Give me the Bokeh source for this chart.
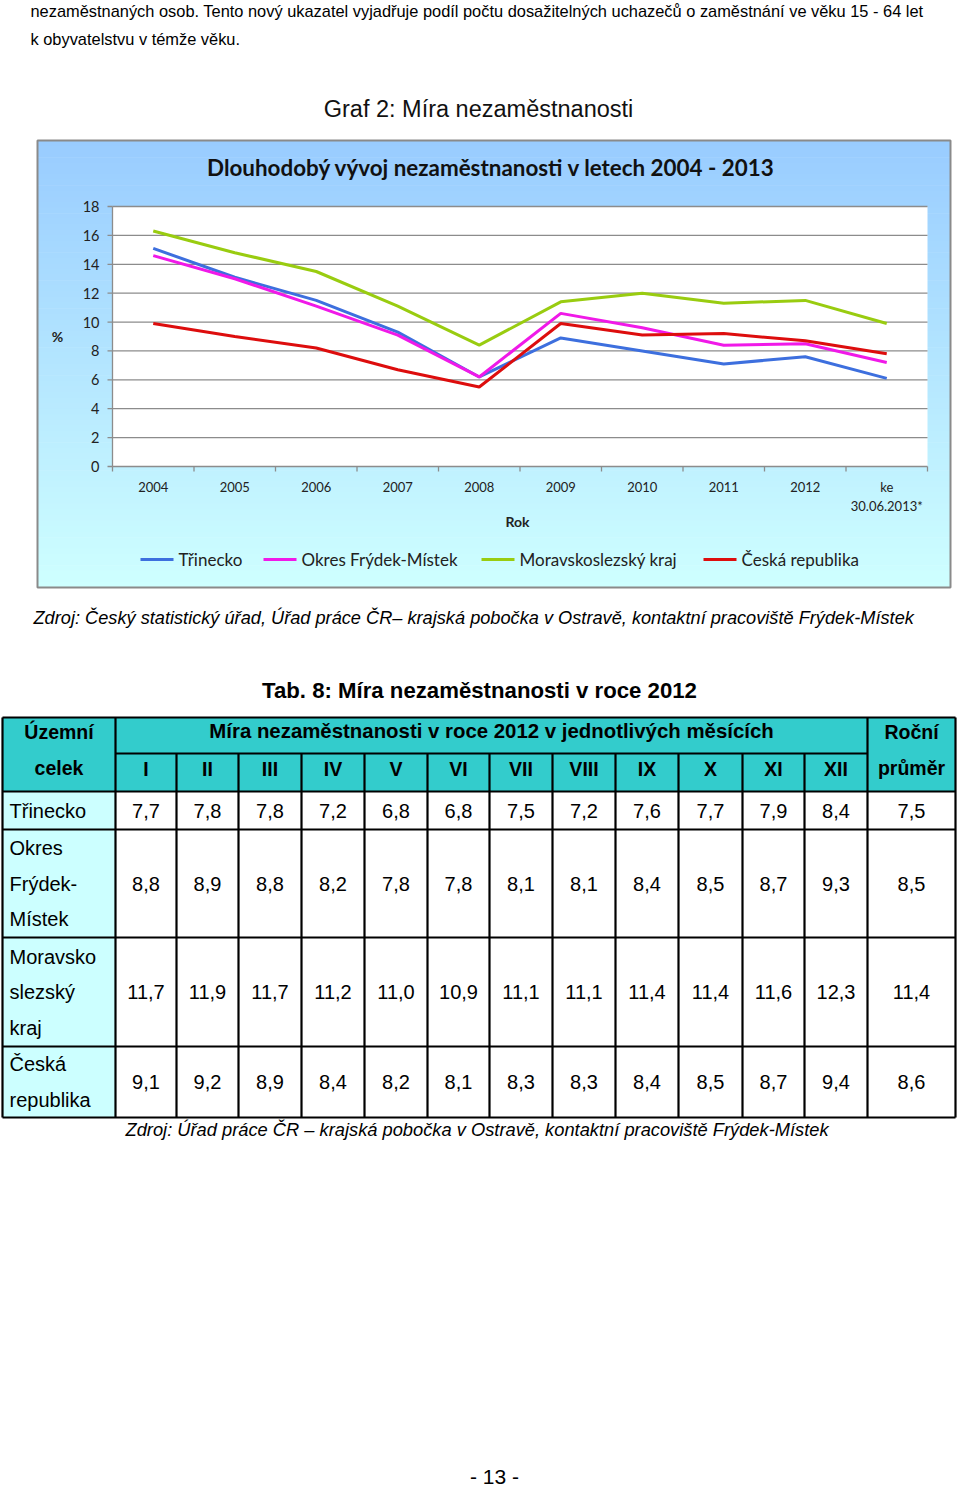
from bokeh.plotting import figure
from bokeh.models import Range1d
from bokeh.core.properties import value
from bokeh.embed import file_html
from bokeh.resources import INLINE

# ---------------- data ----------------
years = ["2004", "2005", "2006", "2007", "2008", "2009", "2010", "2011", "2012", "ke\n30.06.2013*"]
trinecko = [15.1, 13.1, 11.5, 9.3, 6.2, 8.9, 8.0, 7.1, 7.6, 6.1]
okres_fm = [14.6, 13.0, 11.1, 9.1, 6.2, 10.6, 9.6, 8.4, 8.5, 7.2]
msk_kraj = [16.3, 14.8, 13.5, 11.1, 8.4, 11.4, 12.0, 11.3, 11.5, 9.9]
cesko = [9.9, 9.0, 8.2, 6.7, 5.5, 9.9, 9.1, 9.2, 8.7, 7.8]
series_names = ["Třinecko", "Okres Frýdek-Místek", "Moravskoslezský kraj", "Česká republika"]
y_ticks = [0, 2, 4, 6, 8, 10, 12, 14, 16, 18]

months = ["I", "II", "III", "IV", "V", "VI", "VII", "VIII", "IX", "X", "XI", "XII"]
row_labels = [["Třinecko"], ["Okres", "Frýdek-", "Místek"], ["Moravsko", "slezský", "kraj"], ["Česká", "republika"]]
t_trinecko = [7.7, 7.8, 7.8, 7.2, 6.8, 6.8, 7.5, 7.2, 7.6, 7.7, 7.9, 8.4]
t_okres = [8.8, 8.9, 8.8, 8.2, 7.8, 7.8, 8.1, 8.1, 8.4, 8.5, 8.7, 9.3]
t_msk = [11.7, 11.9, 11.7, 11.2, 11.0, 10.9, 11.1, 11.1, 11.4, 11.4, 11.6, 12.3]
t_cr = [9.1, 9.2, 8.9, 8.4, 8.2, 8.1, 8.3, 8.3, 8.4, 8.5, 8.7, 9.4]
t_avg = [7.5, 8.5, 11.4, 8.6]

# ---------------- page geometry ----------------
W, H = 960, 1490
PX_L, PX_R, PY_T, PY_B = 112, 927, 206, 466   # plot area of chart (page px)
YMAX = 18
n = len(years)
xstep = (PX_R - PX_L) / n
x0c = PX_L + xstep / 2
yscale = (PY_B - PY_T) / YMAX

p = figure(width=W, height=H, x_range=Range1d(0, W), y_range=Range1d(H, 0),
           min_border=0, toolbar_location=None, output_backend="svg",
           x_axis_location=None, y_axis_location=None)
p.grid.visible = False
p.outline_line_color = None
p.background_fill_color = "white"
p.border_fill_color = "white"

# extra ranges so chart data go through scales
p.extra_x_ranges = {"cx": Range1d((0 - x0c) / xstep, (W - x0c) / xstep)}
p.extra_y_ranges = {"pct": Range1d(-(H - PY_B) / yscale, PY_B / yscale)}
C = dict(x_range_name="cx", y_range_name="pct")


def txt(x, y, s, size, font="Liberation Sans", style="normal", align="left",
        baseline="middle", color="black", **kw):
    p.text(x=[x], y=[y], text=[s], text_font=value(font), text_font_size=f"{size}px",
           text_font_style=style, text_align=align, text_baseline=baseline,
           text_color=color, **kw)


# ---------------- page text ----------------
txt(30, 10, "nezaměstnaných osob. Tento nový ukazatel vyjadřuje podíl počtu dosažitelných uchazečů o zaměstnání ve věku 15 - 64 let", 16.4)
txt(30, 38, "k obyvatelstvu v témže věku.", 16.4)
txt(478, 108, "Graf 2: Míra nezaměstnanosti", 23.5, align="center", color="#111111")

# ---------------- chart box with gradient ----------------
BX0, BX1, BY0, BY1 = 37, 950, 140, 587
N = 80
top = (153, 204, 255)
bot = (206, 255, 255)
qs_t, qs_b, cols = [], [], []
for i in range(N):
    f = i / (N - 1)
    c = tuple(int(round(top[k] + (bot[k] - top[k]) * f)) for k in range(3))
    qs_t.append(BY0 + (BY1 - BY0) * i / N)
    qs_b.append(BY0 + (BY1 - BY0) * (i + 1) / N + 0.6)
    cols.append("#%02x%02x%02x" % c)
p.quad(left=[BX0] * N, right=[BX1] * N, top=qs_t, bottom=qs_b, fill_color=cols, line_color=None)
p.quad(left=[BX0], right=[BX1], top=[BY0], bottom=[BY1], fill_color=None, line_color="#8a8a8a", line_width=2)

txt(491, 167, "Dlouhodobý vývoj nezaměstnanosti v letech 2004 - 2013", 22.4, font="Lato", style="bold",
    align="center", color="#111111")

# plot area
p.quad(left=[-0.5], right=[n - 0.5], top=[YMAX], bottom=[0], fill_color="white", line_color=None, **C)
gy = [v for v in y_ticks if v > 0]
p.segment(x0=[-0.5] * len(gy), x1=[n - 0.5] * len(gy), y0=gy, y1=gy, line_color="#8c8c8c", line_width=1.3, **C)
# axes lines
p.segment(x0=[-0.5], x1=[-0.5], y0=[0], y1=[YMAX], line_color="#8c8c8c", line_width=1.3, **C)
p.segment(x0=[-0.5], x1=[n - 0.5], y0=[0], y1=[0], line_color="#8c8c8c", line_width=1.3, **C)
tick_len = 5 / yscale
p.segment(x0=[-0.5 - 5 / xstep] * len(y_ticks), x1=[-0.5] * len(y_ticks), y0=y_ticks, y1=y_ticks,
          line_color="#8c8c8c", line_width=1.3, **C)
bx = [i - 0.5 for i in range(n + 1)]
p.segment(x0=bx, x1=bx, y0=[0] * len(bx), y1=[-tick_len] * len(bx), line_color="#8c8c8c", line_width=1.3, **C)

# y tick labels
p.text(x=[-0.5] * len(y_ticks), y=y_ticks, text=[str(v) for v in y_ticks], x_offset=-13,
       text_font=value("Lato"), text_font_size="14.5px", text_align="right", text_baseline="middle",
       text_color="#222222", **C)
txt(57, 336, "%", 14, font="Lato", style="bold", align="center", color="#222222")

# x tick labels
for i, lab in enumerate(years):
    for j, line in enumerate(lab.split("\n")):
        p.text(x=[i], y=[0], text=[line], y_offset=20 + 19 * j, text_font=value("Lato"),
               text_font_size="13px", text_align="center", text_baseline="middle",
               text_color="#222222", **C)
txt(517, 521, "Rok", 14, font="Lato", style="bold", align="center", color="#222222")

# lines
colors = ["#3d6fde", "#f019e8", "#99cc10", "#dd0d0d"]
xs = list(range(n))
for ser, col in zip([trinecko, okres_fm, msk_kraj, cesko], colors):
    p.line(x=xs, y=ser, line_color=col, line_width=3, **C)

# legend
leg_x = [140, 263, 481, 703]
for lx, name, col in zip(leg_x, series_names, colors):
    p.segment(x0=[lx], x1=[lx + 33], y0=[559], y1=[559], line_color=col, line_width=3)
    txt(lx + 38, 559, name, 17, font="Lato", color="#222222")

# source
txt(33, 617, "Zdroj: Český statistický úřad, Úřad práce ČR– krajská pobočka v Ostravě, kontaktní pracoviště Frýdek-Místek",
    18.2, style="italic")

# ---------------- table ----------------
txt(479, 690, "Tab. 8: Míra nezaměstnanosti v roce 2012", 22.2, style="bold", align="center")

cx_edges = [2, 115, 176, 238, 301, 364, 427, 489, 552, 615, 678, 742, 804, 867, 955]
ry_edges = [717, 753, 791, 829, 937, 1046, 1117]
TEAL = "#33cccc"
LCYAN = "#ccffff"
# header background
p.quad(left=[cx_edges[0]], right=[cx_edges[-1]], top=[ry_edges[0]], bottom=[ry_edges[2]], fill_color=TEAL, line_color=None)
# first column
p.quad(left=[cx_edges[0]], right=[cx_edges[1]], top=[ry_edges[2]], bottom=[ry_edges[-1]], fill_color=LCYAN, line_color=None)

LW = 2.2
# horizontal lines
hx0, hx1, hy = [], [], []
hx0.append(cx_edges[0]); hx1.append(cx_edges[-1]); hy.append(ry_edges[0])
hx0.append(cx_edges[1]); hx1.append(cx_edges[-2]); hy.append(ry_edges[1])
for yv in ry_edges[2:]:
    hx0.append(cx_edges[0]); hx1.append(cx_edges[-1]); hy.append(yv)
p.segment(x0=hx0, x1=hx1, y0=hy, y1=hy, line_color="black", line_width=LW)
# vertical lines
vx, vy0, vy1 = [], [], []
for k, xv in enumerate(cx_edges):
    if k in (0, 1, len(cx_edges) - 2, len(cx_edges) - 1):
        vx.append(xv); vy0.append(ry_edges[0]); vy1.append(ry_edges[-1])
    else:
        vx.append(xv); vy0.append(ry_edges[1]); vy1.append(ry_edges[-1])
p.segment(x0=vx, x1=vx, y0=vy0, y1=vy1, line_color="black", line_width=LW)

# header text
hc = (cx_edges[0] + cx_edges[1]) / 2
txt(hc, 731, "Územní", 19.5, style="bold", align="center")
txt(hc, 767, "celek", 19.5, style="bold", align="center")
txt((cx_edges[1] + cx_edges[-2]) / 2, 730, "Míra nezaměstnanosti v roce 2012 v jednotlivých měsících", 20.4,
    style="bold", align="center")
lc = (cx_edges[-2] + cx_edges[-1]) / 2
txt(lc, 731, "Roční", 19.5, style="bold", align="center")
txt(lc, 767, "průměr", 19.5, style="bold", align="center")
mcx = [(cx_edges[k] + cx_edges[k + 1]) / 2 for k in range(1, 13)]
p.text(x=mcx, y=[768] * 12, text=months, text_font=value("Liberation Sans"), text_font_size="19.5px",
       text_font_style="bold", text_align="center", text_baseline="middle")

# data rows
fmt = lambda v: f"{v:.1f}".replace(".", ",")
rows = [t_trinecko, t_okres, t_msk, t_cr]
line_h = 35.5
for r, (vals, avg, labs) in enumerate(zip(rows, t_avg, row_labels)):
    yt, yb = ry_edges[r + 2], ry_edges[r + 3]
    ym = (yt + yb) / 2
    p.text(x=mcx + [lc], y=[ym] * 13, text=[fmt(v) for v in vals] + [fmt(avg)],
           text_font=value("Liberation Sans"), text_font_size="20px", text_align="center", text_baseline="middle")
    nl = len(labs)
    start = ym - line_h * (nl - 1) / 2
    for j, s in enumerate(labs):
        txt(9, start + j * line_h, s, 20)

txt(125, 1129, "Zdroj: Úřad práce ČR – krajská pobočka v Ostravě, kontaktní pracoviště Frýdek-Místek", 18.3, style="italic")

# page number
txt(494, 1476, "- 13 -", 21, align="center")

open("out.html", "w").write(file_html(p, INLINE))
